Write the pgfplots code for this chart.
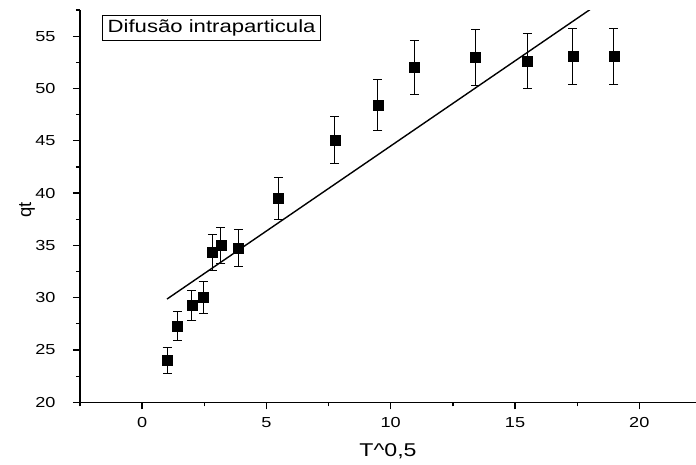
\documentclass[border=0pt]{standalone}
\usepackage{fontspec}
\setmainfont{Liberation Sans}[FakeStretch=1.25]
\newfontfamily\plainfont{Liberation Sans}
\usepackage{pgfplots}
\pgfplotsset{compat=1.18}
\begin{document}
\begin{tikzpicture}
\useasboundingbox (-80pt,-61.7pt) rectangle (616pt,402.3pt);
\begin{axis}[
  scale only axis,
  width=616pt, height=392.3pt,
  xmin=-2.5, xmax=22.28,
  ymin=20, ymax=57.5,
  axis lines=left,
  axis line style={-, line width=1.3pt},
  xtick={0,5,10,15,20},
  ytick={20,25,30,35,40,45,50,55},
  minor xtick={-2.5,2.5,7.5,12.5,17.5},
  minor ytick={22.5,27.5,32.5,37.5,42.5,47.5,52.5,57.5},
  tick align=outside,
  major tick length=7pt,
  minor tick length=4pt,
  every tick/.style={black, line width=1.3pt},
  /pgf/number format/assume math mode=true,
  tick label style={font=\fontsize{14.5}{16}\selectfont},
  xticklabel style={yshift=-5pt},
  yticklabel style={xshift=-14pt},
  xlabel={T\^{}0,5},
  ylabel={qt},
  xlabel style={font=\fontsize{18.5}{20}\selectfont, at={(axis description cs:0.5,0)}, anchor=center, yshift=-49.4pt},
  ylabel style={font=\plainfont\fontsize{18.5}{20}\selectfont, at={(axis description cs:-0.086,0.49)}, anchor=center},
  clip=true,
]
\addplot[black, line width=1.4pt, no markers] coordinates {(1.0,29.87) (18.974,59.1)};
\addplot[
  only marks, mark=square*, mark size=5pt, black,
  error bars/.cd, y dir=both, y explicit,
  error bar style={line width=1pt, black},
  error mark options={rotate=90, mark size=4.5pt, line width=1pt, black},
] table[x=x, y=y, y error=e] {
x y e
1.000 24.00 1.20
1.414 27.30 1.37
2.000 29.25 1.46
2.449 30.00 1.50
2.828 34.35 1.72
3.162 35.00 1.75
3.873 34.75 1.74
5.477 39.50 1.98
7.746 45.10 2.26
9.487 48.40 2.42
10.954 52.00 2.60
13.416 52.95 2.65
15.492 52.60 2.63
17.321 53.05 2.65
18.974 53.05 2.65
};
\node[draw, line width=0.8pt, anchor=north west, inner xsep=5pt, inner ysep=0pt, minimum height=25pt, font=\fontsize{17.7}{19}\selectfont] at (axis description cs:0.0362,0.9873) {Difusão intraparticula};
\end{axis}
\end{tikzpicture}
\end{document}
